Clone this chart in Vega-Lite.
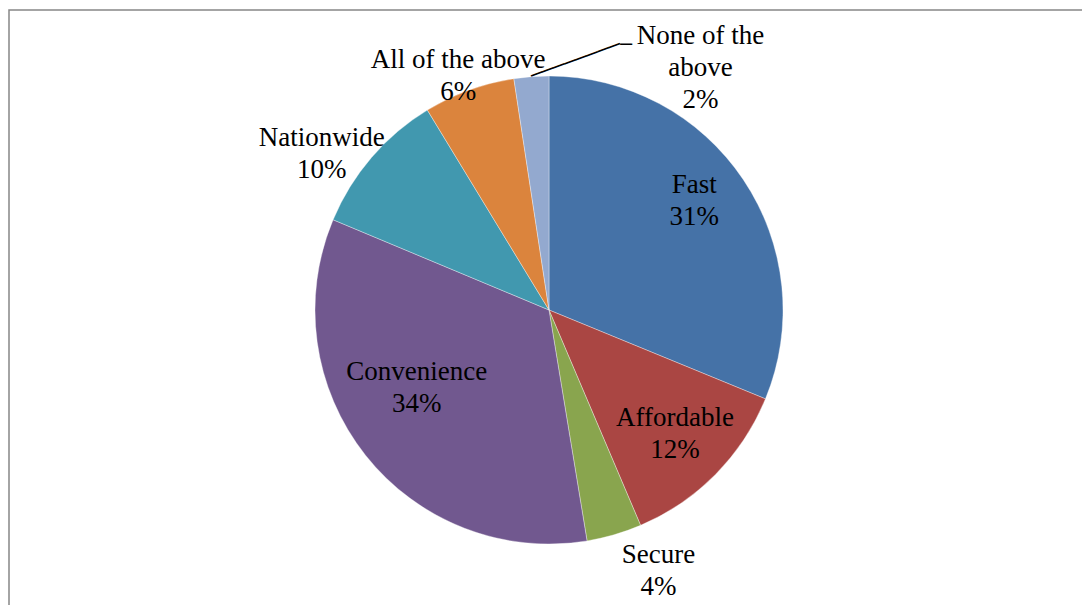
{
  "$schema": "https://vega.github.io/schema/vega-lite/v6.json",
  "width": 1080,
  "height": 600,
  "padding": {"left": 9, "top": 10, "right": 0, "bottom": 0},
  "autosize": {"type": "none"},
  "background": "white",
  "view": {"stroke": "#868686", "strokeWidth": 1.5},
  "config": {"view": {"stroke": "#868686", "strokeWidth": 1.5}},
  "data": {
    "values": [
      {"rank": 1, "category": "Fast", "share": 0.312, "label": "Fast\n31%"},
      {"rank": 2, "category": "Affordable", "share": 0.124, "label": "Affordable\n12%"},
      {"rank": 3, "category": "Secure", "share": 0.038, "label": "Secure\n4%"},
      {"rank": 4, "category": "Convenience", "share": 0.339, "label": "Convenience\n34%"},
      {"rank": 5, "category": "Nationwide", "share": 0.100, "label": "Nationwide\n10%"},
      {"rank": 6, "category": "All of the above", "share": 0.063, "label": "All of the above\n6%"},
      {"rank": 7, "category": "None of the above", "share": 0.024, "label": "None of the\nabove\n2%"}
    ]
  },
  "encoding": {
    "theta": {"field": "share", "type": "quantitative", "stack": true},
    "order": {"field": "rank", "type": "quantitative"}
  },
  "layer": [
    {
      "mark": {"type": "arc", "outerRadius": 234, "stroke": "#ffffff", "strokeWidth": 0.5, "strokeOpacity": 0.7},
      "encoding": {
        "color": {
          "field": "category",
          "type": "nominal",
          "scale": {
            "domain": ["Fast", "Affordable", "Secure", "Convenience", "Nationwide", "All of the above", "None of the above"],
            "range": ["#4572A7", "#AA4643", "#89A54E", "#71588F", "#4198AF", "#DB843D", "#93A9CF"]
          },
          "legend": null
        }
      }
    },
    {
      "mark": {"type": "text", "radius": 170, "dx": 4, "dy": -30, "font": "Liberation Serif", "fontSize": 27, "lineHeight": 32, "lineBreak": "\n", "align": "center", "baseline": "middle", "color": "#000000"},
      "encoding": {"text": {"condition": {"test": "datum.category === 'Fast'", "field": "label"}, "value": ""}}
    },
    {
      "mark": {"type": "text", "radius": 170, "dx": 5, "dy": -11, "font": "Liberation Serif", "fontSize": 27, "lineHeight": 32, "lineBreak": "\n", "align": "center", "baseline": "middle", "color": "#000000"},
      "encoding": {"text": {"condition": {"test": "datum.category === 'Affordable'", "field": "label"}, "value": ""}}
    },
    {
      "mark": {"type": "text", "radius": 170, "dx": 1, "dy": -43, "font": "Liberation Serif", "fontSize": 27, "lineHeight": 32, "lineBreak": "\n", "align": "center", "baseline": "middle", "color": "#000000"},
      "encoding": {"text": {"condition": {"test": "datum.category === 'Convenience'", "field": "label"}, "value": ""}}
    },
    {
      "mark": {"type": "text", "radius": 260, "dx": 37, "dy": -5, "font": "Liberation Serif", "fontSize": 27, "lineHeight": 32, "lineBreak": "\n", "align": "center", "baseline": "middle", "color": "#000000"},
      "encoding": {"text": {"condition": {"test": "datum.category === 'Secure'", "field": "label"}, "value": ""}}
    },
    {
      "mark": {"type": "text", "radius": 260, "dx": -30, "dy": -3, "font": "Liberation Serif", "fontSize": 27, "lineHeight": 32, "lineBreak": "\n", "align": "center", "baseline": "middle", "color": "#000000"},
      "encoding": {"text": {"condition": {"test": "datum.category === 'Nationwide'", "field": "label"}, "value": ""}}
    },
    {
      "mark": {"type": "text", "radius": 260, "dx": -2, "dy": -6, "font": "Liberation Serif", "fontSize": 27, "lineHeight": 32, "lineBreak": "\n", "align": "center", "baseline": "middle", "color": "#000000"},
      "encoding": {"text": {"condition": {"test": "datum.category === 'All of the above'", "field": "label"}, "value": ""}}
    },
    {
      "mark": {"type": "text", "radius": 260, "dx": 171, "dy": -15, "font": "Liberation Serif", "fontSize": 27, "lineHeight": 32, "lineBreak": "\n", "align": "center", "baseline": "middle", "color": "#000000"},
      "encoding": {"text": {"condition": {"test": "datum.category === 'None of the above'", "field": "label"}, "value": ""}}
    },
    {
      "mark": {"type": "text", "radius": 234, "angle": -20, "dx": 0, "dy": 0, "font": "DejaVu Sans", "fontSize": 19.6, "align": "left", "baseline": "middle", "color": "#000000"},
      "encoding": {"text": {"condition": {"test": "datum.category === 'None of the above'", "value": "────────"}, "value": ""}}
    },
    {
      "mark": {"type": "text", "radius": 234, "dx": 89, "dy": -32, "font": "DejaVu Sans", "fontSize": 19.6, "align": "left", "baseline": "middle", "color": "#000000"},
      "encoding": {"text": {"condition": {"test": "datum.category === 'None of the above'", "value": "─"}, "value": ""}}
    }
  ]
}
